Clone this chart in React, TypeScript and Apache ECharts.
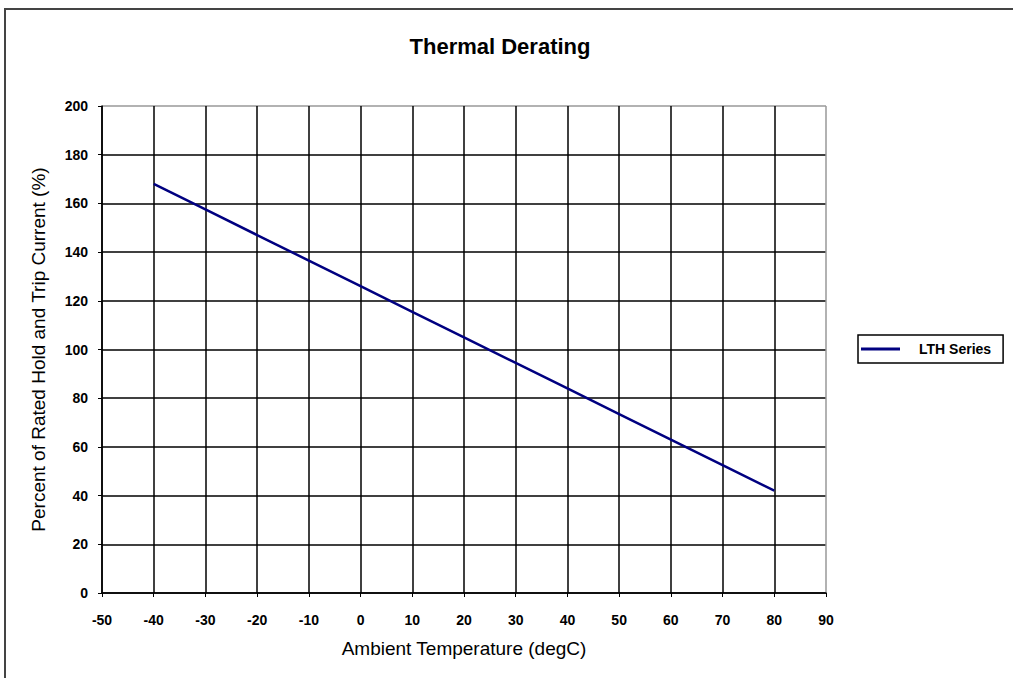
import React, { useEffect, useRef } from "react";
import * as echarts from "echarts";

const temperatures = [-40, -30, -20, -10, 0, 10, 20, 30, 40, 50, 60, 70, 80];
const percentRated = [168, 157.5, 147, 136.5, 126, 115.5, 105, 94.5, 84, 73.5, 63, 52.5, 42];
const seriesName = "LTH Series";

export default function App() {
  const ref = useRef<HTMLDivElement>(null);
  useEffect(() => {
    document.body.style.margin = "0";
    const chart = echarts.init(ref.current!, undefined, { renderer: "svg" });
    const xLineColors = Array.from({ length: 15 }, (_, i) => (i === 14 ? "#999" : "#000"));
    const yLineColors = Array.from({ length: 11 }, (_, i) => (i === 10 ? "#999" : "#000"));
    chart.setOption({
      animation: false,
      backgroundColor: "#fff",
      title: {
        text: "Thermal Derating",
        left: 495,
        top: 30,
        textAlign: "center",
        textStyle: { fontFamily: "Liberation Sans", fontSize: 22, fontWeight: "bold", color: "#000" },
      },
      graphic: [
        {
          type: "rect",
          shape: { x: 5, y: 9, width: 1100, height: 700 },
          style: { fill: "none", stroke: "#444", lineWidth: 2 },
          silent: true,
        },
      ],
      legend: {
        left: 858,
        top: 335,
        orient: "vertical",
        data: [{ name: seriesName, icon: "rect" }],
        borderColor: "#000",
        borderWidth: 1.5,
        padding: [7, 6, 7, 3],
        itemWidth: 39,
        itemHeight: 3,
        itemGap: 0,
        itemStyle: { color: "#000080" },
        textStyle: {
          fontFamily: "Liberation Sans",
          fontSize: 14,
          fontWeight: "bold",
          color: "#000",
          lineHeight: 14,
          padding: [0, 6, 0, 14],
        },
      },
      grid: { left: 102, right: 187, top: 106, bottom: 85 },
      xAxis: {
        type: "value",
        min: -50,
        max: 90,
        interval: 10,
        name: "Ambient Temperature (degC)",
        nameLocation: "middle",
        nameGap: 46,
        nameTextStyle: { fontFamily: "Liberation Sans", fontSize: 19, color: "#000" },
        axisLine: { show: true, onZero: false, lineStyle: { color: "#000", width: 1.5 } },
        axisTick: { show: true, length: 4, lineStyle: { color: "#000" } },
        axisLabel: { fontFamily: "Liberation Sans", fontSize: 14, fontWeight: "bold", color: "#000", margin: 20 },
        splitLine: { show: true, lineStyle: { color: xLineColors, width: 1.5 } },
      },
      yAxis: {
        type: "value",
        min: 0,
        max: 200,
        interval: 20,
        name: "Percent of Rated Hold and Trip Current (%)",
        nameLocation: "middle",
        nameGap: 54,
        nameTextStyle: { fontFamily: "Liberation Sans", fontSize: 19, color: "#000" },
        axisLine: { show: true, onZero: false, lineStyle: { color: "#000", width: 1.5 } },
        axisTick: { show: true, length: 4, lineStyle: { color: "#000" } },
        axisLabel: { fontFamily: "Liberation Sans", fontSize: 14, fontWeight: "bold", color: "#000", margin: 14 },
        splitLine: { show: true, lineStyle: { color: yLineColors, width: 1.5 } },
      },
      series: [
        {
          name: seriesName,
          type: "line",
          data: temperatures.map((t, i) => [t, percentRated[i]]),
          symbol: "none",
          lineStyle: { color: "#000080", width: 2.5 },
          itemStyle: { color: "#000080" },
        },
      ],
    });
    return () => chart.dispose();
  }, []);
  return <div ref={ref} style={{ position: "absolute", left: 0, top: 0, width: 1013, height: 678 }} />;
}
